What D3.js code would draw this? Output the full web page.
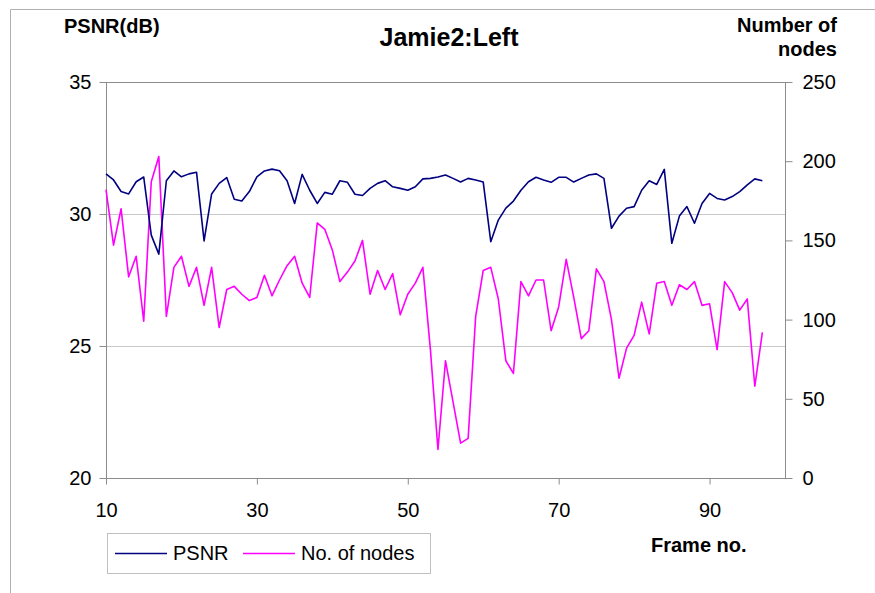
<!DOCTYPE html>
<html>
<head>
<meta charset="utf-8">
<script src="https://cdn.jsdelivr.net/npm/d3@7"></script>
<style>
	body { margin: 0; background: #fff; }
	svg { display: block; font-family: "Liberation Sans", Arial, sans-serif; }
</style>
</head>
<body>
<svg id="chart" width="875" height="593"></svg>
<script>
// frame numbers on the x axis
const frames = d3.range(10, 98);

// PSNR (dB), left axis
const psnr = [
	31.52, 31.29, 30.85, 30.76, 31.22, 31.4, 29.2, 28.48, 31.26, 31.63,
	31.41, 31.52, 31.58, 28.98, 30.76, 31.16, 31.38, 30.56, 30.49, 30.85,
	31.41, 31.63, 31.7, 31.64, 31.26, 30.4, 31.5, 30.9, 30.4, 30.82,
	30.75, 31.26, 31.2, 30.75, 30.7, 30.97, 31.16, 31.26, 31.03, 30.97,
	30.9, 31.03, 31.33, 31.35, 31.4, 31.48, 31.35, 31.21, 31.35, 31.29,
	31.21, 28.95, 29.77, 30.22, 30.49, 30.9, 31.22, 31.39, 31.29, 31.2,
	31.39, 31.39, 31.21, 31.35, 31.48, 31.52, 31.35, 29.46, 29.92, 30.22,
	30.28, 30.9, 31.26, 31.12, 31.69, 28.89, 29.92, 30.28, 29.65, 30.4,
	30.78, 30.59, 30.53, 30.66, 30.85, 31.1, 31.33, 31.26
];

// number of nodes, right axis
const nodes = [
	182, 147, 170, 127, 140, 99, 187, 203, 102, 133,
	140, 121, 133, 109, 133, 95, 119, 121, 116, 112,
	114, 128, 115, 125, 134, 140, 123, 114, 161, 157,
	144, 124, 130, 137, 150, 116, 131, 119, 129, 103,
	116, 123, 133, 81, 18, 74, 48, 22, 25, 102,
	131, 133, 113, 74, 66, 124, 115, 125, 125, 93,
	108, 138, 114, 88, 93, 132, 124, 100, 63, 82,
	90, 111, 91, 123, 124, 109, 122, 119, 124, 109,
	110, 81, 124, 117, 106, 113, 58, 92
];

const xTicks = [10, 30, 50, 70, 90];
const leftTicks = [20, 25, 30, 35];
const rightTicks = [0, 50, 100, 150, 200, 250];

const margins = {top: 82, left: 106, right: 90, bottom: 115};
const svg = d3.select("#chart");
const width = 875, height = 593;
const axisGrey = "#8c8c8c";

// outer chart frame (cut off at right and bottom)
svg.append("path")
	.attr("d", "M10.5," + height + "V9.5H" + width)
	.attr("fill", "none")
	.attr("stroke", "#b0b0b0");

const xScale = d3.scaleLinear()
	.domain([10, 100])
	.range([margins.left, width - margins.right]);
const yLeft = d3.scaleLinear()
	.domain([20, 35])
	.range([height - margins.bottom, margins.top]);
const yRight = d3.scaleLinear()
	.domain([0, 250])
	.range([height - margins.bottom, margins.top]);

// gridlines
svg.append("g")
	.selectAll("line")
	.data([25, 30])
	.join("line")
	.attr("x1", margins.left).attr("x2", width - margins.right)
	.attr("y1", d => Math.round(yLeft(d)) + 0.5)
	.attr("y2", d => Math.round(yLeft(d)) + 0.5)
	.attr("stroke", "#c8c8c8");

// plot area border
svg.append("rect")
	.attr("x", margins.left + 0.5).attr("y", margins.top + 0.5)
	.attr("width", width - margins.right - margins.left)
	.attr("height", height - margins.bottom - margins.top)
	.attr("fill", "none")
	.attr("stroke", axisGrey);

function styleAxis(g) {
	g.selectAll(".domain").remove();
	g.selectAll("line").attr("stroke", axisGrey);
	g.selectAll("text")
		.attr("fill", "#000")
		.attr("font-size", "20px")
		.attr("font-family", "'Liberation Sans', Arial, sans-serif");
}

svg.append("g")
	.attr("transform", "translate(0," + (height - margins.bottom + 0.5) + ")")
	.call(d3.axisBottom(xScale).tickValues(xTicks).tickSize(6).tickPadding(18))
	.call(styleAxis);

svg.append("g")
	.attr("transform", "translate(" + (margins.left + 0.5) + ",0)")
	.call(d3.axisLeft(yLeft).tickValues(leftTicks).tickSize(7).tickPadding(8))
	.call(styleAxis);

svg.append("g")
	.attr("transform", "translate(" + (width - margins.right + 0.5) + ",0)")
	.call(d3.axisRight(yRight).tickValues(rightTicks).tickSize(7).tickPadding(10))
	.call(styleAxis);

// lines
const psnrLine = d3.line()
	.x((d, i) => xScale(frames[i]))
	.y(d => yLeft(d));
const nodesLine = d3.line()
	.x((d, i) => xScale(frames[i]))
	.y(d => yRight(d));

svg.append("path")
	.datum(nodes)
	.attr("d", nodesLine)
	.attr("fill", "none")
	.attr("stroke", "#ff00ff")
	.attr("stroke-width", 1.6)
	.attr("stroke-linejoin", "round");

svg.append("path")
	.datum(psnr)
	.attr("d", psnrLine)
	.attr("fill", "none")
	.attr("stroke", "#000080")
	.attr("stroke-width", 1.6)
	.attr("stroke-linejoin", "round");

// titles
svg.append("text")
	.attr("x", 449).attr("y", 46)
	.attr("text-anchor", "middle")
	.attr("font-size", "25px").attr("font-weight", "bold")
	.text("Jamie2:Left");

svg.append("text")
	.attr("x", 64).attr("y", 33)
	.attr("font-size", "20px").attr("font-weight", "bold")
	.text("PSNR(dB)");

svg.append("text")
	.attr("x", 837).attr("y", 32)
	.attr("text-anchor", "end")
	.attr("font-size", "20px").attr("font-weight", "bold")
	.text("Number of");
svg.append("text")
	.attr("x", 837).attr("y", 56)
	.attr("text-anchor", "end")
	.attr("font-size", "20px").attr("font-weight", "bold")
	.text("nodes");

svg.append("text")
	.attr("x", 651).attr("y", 552)
	.attr("font-size", "20px").attr("font-weight", "bold")
	.text("Frame no.");

// legend
const legendItems = [
	{name: "PSNR", colour: "#000080"},
	{name: "No. of nodes", colour: "#ff00ff"}
];
const legend = svg.append("g").attr("transform", "translate(107,533)");
legend.append("rect")
	.attr("x", 0.5).attr("y", 0.5)
	.attr("width", 323).attr("height", 40)
	.attr("fill", "#fff")
	.attr("stroke", "#c0c0c0");
const legendX = [8, 136];
legendItems.forEach((item, i) => {
	legend.append("line")
		.attr("x1", legendX[i]).attr("x2", legendX[i] + 52)
		.attr("y1", 20.5).attr("y2", 20.5)
		.attr("stroke", item.colour)
		.attr("stroke-width", 1.6);
	legend.append("text")
		.attr("x", legendX[i] + 58).attr("y", 27)
		.attr("font-size", "20px")
		.text(item.name);
});
</script>
</body>
</html>
